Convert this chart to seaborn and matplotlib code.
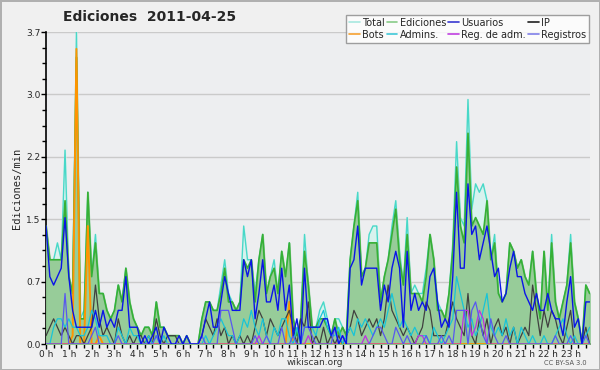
import numpy as np
import pandas as pd
import matplotlib
matplotlib.use("Agg")
import matplotlib.pyplot as plt
from matplotlib.lines import Line2D
from matplotlib.ticker import MultipleLocator, FixedLocator
import seaborn as sns

# edits per minute, one value every 10 minutes (144 values)
total = [
    1.4, 1.0, 1.0, 1.2, 1.0, 2.3, 0.8, 0.6, 3.7, 0.3, 0.4, 1.8,
    0.8, 1.3, 0.6, 0.6, 0.4, 0.3, 0.4, 0.7, 0.5, 0.9, 0.5, 0.3,
    0.2, 0.1, 0.2, 0.2, 0.1, 0.5, 0.2, 0.2, 0.1, 0.1, 0.1, 0.1,
    0.0, 0.1, 0.0, 0.0, 0.0, 0.3, 0.5, 0.5, 0.4, 0.4, 0.7, 1.0,
    0.6, 0.5, 0.4, 0.5, 1.4, 1.0, 1.0, 0.6, 1.0, 1.3, 0.6, 0.8,
    1.0, 0.6, 1.1, 0.8, 1.2, 0.3, 0.1, 0.3, 1.3, 0.7, 0.2, 0.2,
    0.4, 0.5, 0.3, 0.1, 0.3, 0.3, 0.2, 0.1, 1.0, 1.4, 1.8, 0.8,
    0.9, 1.3, 1.4, 1.4, 0.5, 0.8, 1.0, 1.4, 1.7, 1.1, 0.7, 1.5,
    0.6, 0.7, 0.6, 0.6, 0.9, 1.3, 1.0, 0.5, 0.4, 0.3, 0.6, 1.2,
    2.4, 1.5, 1.4, 2.9, 1.6, 1.9, 1.8, 1.9, 1.7, 1.0, 1.3, 0.6,
    0.5, 0.6, 1.2, 1.1, 0.9, 1.0, 0.8, 0.7, 1.1, 0.6, 0.3, 1.1,
    0.4, 1.3, 0.5, 0.3, 0.5, 0.7, 1.3, 0.5, 0.3, 0.0, 0.7, 0.6,
]
ediciones = [
    1.4, 1.0, 1.0, 1.0, 1.0, 1.7, 0.8, 0.6, 3.4, 0.3, 0.3, 1.8,
    0.8, 1.2, 0.6, 0.6, 0.4, 0.3, 0.4, 0.7, 0.5, 0.9, 0.5, 0.3,
    0.2, 0.1, 0.2, 0.2, 0.1, 0.5, 0.2, 0.2, 0.1, 0.1, 0.1, 0.1,
    0.0, 0.1, 0.0, 0.0, 0.0, 0.3, 0.5, 0.5, 0.4, 0.4, 0.6, 0.9,
    0.5, 0.5, 0.4, 0.5, 1.0, 0.9, 1.0, 0.5, 1.0, 1.3, 0.6, 0.8,
    0.9, 0.6, 1.1, 0.8, 1.2, 0.3, 0.1, 0.3, 1.1, 0.7, 0.2, 0.2,
    0.3, 0.3, 0.2, 0.1, 0.3, 0.1, 0.2, 0.1, 1.0, 1.4, 1.7, 0.8,
    0.9, 1.2, 1.2, 1.2, 0.5, 0.8, 1.0, 1.3, 1.6, 1.0, 0.7, 1.3,
    0.6, 0.6, 0.6, 0.5, 0.8, 1.3, 1.0, 0.4, 0.4, 0.3, 0.6, 1.1,
    2.1, 1.4, 1.2, 2.5, 1.4, 1.5, 1.4, 1.3, 1.7, 1.0, 1.2, 0.6,
    0.5, 0.6, 1.2, 1.1, 0.9, 1.0, 0.8, 0.7, 1.1, 0.6, 0.3, 1.1,
    0.4, 1.2, 0.5, 0.3, 0.5, 0.7, 1.2, 0.5, 0.3, 0.0, 0.7, 0.6,
]
usuarios = [
    1.4, 0.8, 0.7, 0.8, 0.9, 1.5, 0.8, 0.4, 0.2, 0.2, 0.2, 0.2,
    0.2, 0.4, 0.2, 0.4, 0.2, 0.3, 0.2, 0.4, 0.4, 0.8, 0.2, 0.2,
    0.2, 0.0, 0.1, 0.0, 0.1, 0.2, 0.0, 0.2, 0.1, 0.0, 0.0, 0.1,
    0.0, 0.1, 0.0, 0.0, 0.0, 0.1, 0.3, 0.5, 0.2, 0.2, 0.5, 0.8,
    0.6, 0.4, 0.4, 0.4, 1.0, 0.8, 1.0, 0.3, 0.6, 1.0, 0.5, 0.5,
    0.7, 0.4, 0.9, 0.4, 0.7, 0.1, 0.3, 0.0, 0.9, 0.2, 0.2, 0.2,
    0.2, 0.3, 0.3, 0.1, 0.2, 0.0, 0.1, 0.0, 0.9, 1.0, 1.4, 0.7,
    0.9, 0.9, 0.9, 0.9, 0.4, 0.7, 0.5, 0.9, 1.1, 0.9, 0.2, 1.1,
    0.4, 0.6, 0.4, 0.5, 0.4, 0.8, 0.9, 0.5, 0.2, 0.3, 0.2, 0.8,
    1.8, 0.9, 0.9, 1.9, 1.3, 1.4, 1.0, 1.2, 1.4, 1.1, 0.8, 0.9,
    0.5, 0.6, 0.9, 1.1, 0.8, 0.8, 0.6, 0.5, 0.4, 0.6, 0.4, 0.4,
    0.6, 0.4, 0.3, 0.3, 0.1, 0.5, 0.8, 0.2, 0.3, 0.0, 0.5, 0.5,
]
ip = [
    0.1, 0.2, 0.3, 0.2, 0.1, 0.2, 0.1, 0.0, 0.1, 0.1, 0.0, 0.1,
    0.2, 0.7, 0.3, 0.1, 0.2, 0.1, 0.0, 0.3, 0.1, 0.0, 0.1, 0.0,
    0.1, 0.1, 0.0, 0.1, 0.0, 0.3, 0.1, 0.0, 0.1, 0.1, 0.1, 0.0,
    0.0, 0.0, 0.0, 0.0, 0.0, 0.1, 0.3, 0.2, 0.1, 0.3, 0.1, 0.2,
    0.0, 0.1, 0.0, 0.1, 0.0, 0.1, 0.0, 0.2, 0.4, 0.3, 0.1, 0.3,
    0.2, 0.1, 0.2, 0.3, 0.4, 0.2, 0.0, 0.3, 0.2, 0.5, 0.0, 0.1,
    0.0, 0.2, 0.0, 0.1, 0.0, 0.1, 0.0, 0.1, 0.2, 0.4, 0.3, 0.1,
    0.2, 0.3, 0.2, 0.3, 0.1, 0.3, 0.7, 0.4, 0.3, 0.2, 0.1, 0.2,
    0.1, 0.0, 0.1, 0.2, 0.5, 0.4, 0.1, 0.1, 0.1, 0.1, 0.3, 0.5,
    0.3, 0.2, 0.1, 0.6, 0.1, 0.0, 0.3, 0.1, 0.3, 0.0, 0.2, 0.3,
    0.1, 0.2, 0.0, 0.2, 0.0, 0.1, 0.2, 0.1, 0.7, 0.4, 0.1, 0.4,
    0.2, 0.4, 0.3, 0.1, 0.0, 0.2, 0.4, 0.0, 0.0, 0.0, 0.2, 0.0,
]
admins = [
    0.0, 0.0, 0.2, 0.3, 0.3, 0.2, 0.3, 0.2, 0.2, 0.1, 0.1, 0.2,
    0.4, 0.3, 0.1, 0.1, 0.1, 0.0, 0.0, 0.2, 0.1, 0.0, 0.2, 0.1,
    0.1, 0.0, 0.0, 0.1, 0.0, 0.1, 0.0, 0.1, 0.0, 0.0, 0.0, 0.0,
    0.0, 0.0, 0.0, 0.0, 0.0, 0.0, 0.1, 0.0, 0.1, 0.2, 0.3, 0.2,
    0.1, 0.1, 0.0, 0.1, 0.3, 0.2, 0.4, 0.2, 0.1, 0.3, 0.1, 0.0,
    0.2, 0.1, 0.3, 0.3, 0.1, 0.0, 0.2, 0.0, 0.2, 0.2, 0.2, 0.1,
    0.3, 0.4, 0.2, 0.1, 0.1, 0.2, 0.0, 0.1, 0.2, 0.1, 0.3, 0.2,
    0.3, 0.2, 0.1, 0.2, 0.3, 0.2, 0.4, 0.6, 0.4, 0.2, 0.3, 0.2,
    0.1, 0.2, 0.1, 0.1, 0.1, 0.0, 0.2, 0.1, 0.0, 0.1, 0.2, 0.3,
    0.8, 0.6, 0.4, 0.2, 0.3, 0.1, 0.2, 0.4, 0.6, 0.2, 0.1, 0.2,
    0.1, 0.3, 0.1, 0.2, 0.0, 0.2, 0.1, 0.0, 0.1, 0.0, 0.0, 0.1,
    0.0, 0.0, 0.1, 0.2, 0.3, 0.1, 0.0, 0.1, 0.0, 0.0, 0.1, 0.2,
]
bots = [
    0.0, 0.0, 0.0, 0.0, 0.0, 0.0, 0.0, 0.1, 3.5, 0.0, 0.0, 1.4,
    0.0, 0.0, 0.1, 0.0, 0.0, 0.0, 0.0, 0.0, 0.0, 0.0, 0.0, 0.0,
    0.0, 0.0, 0.0, 0.0, 0.0, 0.0, 0.0, 0.0, 0.0, 0.0, 0.0, 0.0,
    0.0, 0.0, 0.0, 0.0, 0.0, 0.0, 0.0, 0.0, 0.0, 0.0, 0.0, 0.0,
    0.0, 0.0, 0.0, 0.0, 0.0, 0.0, 0.0, 0.0, 0.0, 0.0, 0.0, 0.0,
    0.0, 0.0, 0.0, 0.0, 0.5, 0.0, 0.0, 0.0, 0.0, 0.0, 0.0, 0.0,
    0.0, 0.0, 0.0, 0.0, 0.0, 0.0, 0.0, 0.0, 0.0, 0.0, 0.0, 0.0,
    0.0, 0.0, 0.0, 0.0, 0.0, 0.0, 0.0, 0.0, 0.0, 0.0, 0.0, 0.0,
    0.0, 0.0, 0.0, 0.0, 0.0, 0.0, 0.0, 0.0, 0.0, 0.0, 0.0, 0.0,
    0.0, 0.0, 0.0, 0.0, 0.0, 0.0, 0.0, 0.0, 0.0, 0.0, 0.0, 0.0,
    0.0, 0.0, 0.0, 0.0, 0.0, 0.0, 0.0, 0.0, 0.0, 0.0, 0.0, 0.0,
    0.0, 0.0, 0.0, 0.0, 0.0, 0.0, 0.0, 0.0, 0.0, 0.0, 0.0, 0.0,
]
reg_adm = [
    0.0, 0.0, 0.0, 0.0, 0.0, 0.0, 0.0, 0.0, 0.0, 0.0, 0.0, 0.0,
    0.0, 0.0, 0.0, 0.0, 0.0, 0.0, 0.0, 0.0, 0.0, 0.0, 0.0, 0.0,
    0.0, 0.0, 0.0, 0.0, 0.0, 0.0, 0.0, 0.0, 0.0, 0.0, 0.0, 0.0,
    0.0, 0.0, 0.0, 0.0, 0.0, 0.0, 0.0, 0.0, 0.0, 0.0, 0.0, 0.0,
    0.0, 0.0, 0.0, 0.0, 0.0, 0.0, 0.0, 0.0, 0.1, 0.0, 0.0, 0.0,
    0.0, 0.0, 0.0, 0.0, 0.0, 0.0, 0.0, 0.0, 0.0, 0.1, 0.0, 0.0,
    0.0, 0.0, 0.0, 0.0, 0.0, 0.0, 0.1, 0.0, 0.0, 0.0, 0.0, 0.0,
    0.1, 0.0, 0.0, 0.0, 0.0, 0.0, 0.0, 0.0, 0.0, 0.0, 0.0, 0.0,
    0.0, 0.0, 0.1, 0.1, 0.0, 0.0, 0.0, 0.0, 0.0, 0.0, 0.0, 0.0,
    0.0, 0.0, 0.4, 0.4, 0.1, 0.2, 0.4, 0.3, 0.0, 0.0, 0.0, 0.0,
    0.0, 0.0, 0.0, 0.0, 0.0, 0.0, 0.0, 0.0, 0.0, 0.0, 0.0, 0.0,
    0.0, 0.0, 0.0, 0.0, 0.0, 0.0, 0.0, 0.0, 0.0, 0.0, 0.0, 0.0,
]
registros = [
    0.0, 0.0, 0.0, 0.0, 0.0, 0.6, 0.0, 0.0, 0.0, 0.0, 0.0, 0.0,
    0.1, 0.2, 0.0, 0.0, 0.0, 0.0, 0.0, 0.1, 0.0, 0.0, 0.0, 0.0,
    0.0, 0.0, 0.0, 0.0, 0.0, 0.1, 0.0, 0.0, 0.0, 0.0, 0.0, 0.0,
    0.0, 0.0, 0.0, 0.0, 0.0, 0.1, 0.0, 0.0, 0.0, 0.0, 0.4, 0.4,
    0.4, 0.2, 0.0, 0.0, 0.0, 0.0, 0.0, 0.1, 0.0, 0.0, 0.1, 0.0,
    0.0, 0.0, 0.2, 0.0, 0.0, 0.1, 0.0, 0.0, 0.2, 0.2, 0.1, 0.0,
    0.0, 0.0, 0.0, 0.0, 0.2, 0.0, 0.1, 0.0, 0.0, 0.0, 0.0, 0.0,
    0.0, 0.0, 0.1, 0.2, 0.2, 0.1, 0.0, 0.0, 0.2, 0.1, 0.0, 0.1,
    0.0, 0.0, 0.0, 0.0, 0.1, 0.0, 0.0, 0.0, 0.1, 0.0, 0.1, 0.0,
    0.4, 0.4, 0.4, 0.0, 0.4, 0.5, 0.3, 0.1, 0.0, 0.3, 0.1, 0.0,
    0.0, 0.1, 0.0, 0.0, 0.0, 0.0, 0.0, 0.0, 0.0, 0.0, 0.0, 0.0,
    0.0, 0.0, 0.1, 0.0, 0.0, 0.0, 0.1, 0.0, 0.0, 0.0, 0.1, 0.0,
]

hour_labels = [f"{h} h" for h in range(24)]
ytick_vals = [0.0, 0.74, 1.48, 2.22, 2.96, 3.7]
ytick_labels = ["0.0", "0.7", "1.5", "2.2", "3.0", "3.7"]

hours = np.arange(len(total)) / 6.0
df = pd.DataFrame({
    "hora": hours, "Total": total, "Ediciones": ediciones, "Usuarios": usuarios,
    "IP": ip, "Admins.": admins, "Bots": bots, "Reg. de adm.": reg_adm,
    "Registros": registros,
})

sns.set_style("white", {"axes.facecolor": "#edeef0"})
plt.rcParams["font.family"] = ["DejaVu Sans"]

fig = plt.figure(figsize=(6, 3.7), dpi=100, facecolor="#f0f0f0",
                 edgecolor="#b0b0b0", linewidth=2)
ax = fig.add_axes([0.0767, 0.070, 0.906, 0.8435])

for y in ytick_vals[1:]:
    ax.axhline(y, color="#cacaca", linewidth=1, zorder=0)

ax.fill_between(df["hora"], df["Total"], color="#d8f2ee", zorder=1)
sns.lineplot(data=df, x="hora", y="Total", ax=ax, color="#48d8c8", linewidth=1.0, zorder=2)
ax.fill_between(df["hora"], df["Ediciones"], color="#90c890", alpha=0.9, zorder=3)
sns.lineplot(data=df, x="hora", y="Ediciones", ax=ax, color="#36b036", linewidth=1.2, zorder=4)
sns.lineplot(data=df, x="hora", y="Bots", ax=ax, color="#ff9400", linewidth=1.4, zorder=5)
sns.lineplot(data=df, x="hora", y="IP", ax=ax, color="#404040", linewidth=0.9, zorder=6)
sns.lineplot(data=df, x="hora", y="Admins.", ax=ax, color="#18c4d8", linewidth=0.9, zorder=6)
sns.lineplot(data=df, x="hora", y="Reg. de adm.", ax=ax, color="#c030e0", linewidth=0.9, zorder=7)
sns.lineplot(data=df, x="hora", y="Registros", ax=ax, color="#5858f0", linewidth=0.9, zorder=7)
sns.lineplot(data=df, x="hora", y="Usuarios", ax=ax, color="#0a14e8", linewidth=1.0, zorder=8)

ax.set_xlim(0, hours[-1])
ax.set_ylim(0, 3.7)
ax.set_xticks(range(24))
ax.set_xticklabels(hour_labels, fontsize=6.5)
ax.xaxis.set_minor_locator(MultipleLocator(1 / 3))
ax.yaxis.set_major_locator(FixedLocator(ytick_vals))
ax.set_yticklabels(ytick_labels, fontsize=6.5)
ax.yaxis.set_minor_locator(MultipleLocator(0.185))
ax.tick_params(axis="both", which="major", direction="out", length=3.5, width=1,
               color="black", pad=0.5, left=True, bottom=True)
ax.tick_params(axis="both", which="minor", direction="out", length=3, width=1,
               color="black", left=True, bottom=True)
ax.set_xlabel("")
ax.set_ylabel("Ediciones/min", fontsize=7.5, family="DejaVu Sans Mono", labelpad=3)
for side in ["top", "right"]:
    ax.spines[side].set_visible(False)
for side in ["left", "bottom"]:
    ax.spines[side].set_color("black")
    ax.spines[side].set_linewidth(1.2)

fig.text(0.25, 0.954, "Ediciones  2011-04-25", fontsize=10, fontweight="bold",
         ha="center", va="center")
fig.text(0.525, 0.020, "wikiscan.org", fontsize=6.5, ha="center", va="center", color="#333333")
fig.text(0.978, 0.020, "CC BY-SA 3.0", fontsize=4.8, ha="right", va="center", color="#555555")

handles = [
    Line2D([], [], color="#a8e8e0", lw=1.2), Line2D([], [], color="#f5a030", lw=1.2),
    Line2D([], [], color="#88cc88", lw=1.2), Line2D([], [], color="#40c8d8", lw=1.2),
    Line2D([], [], color="#3838d0", lw=1.2), Line2D([], [], color="#c040e0", lw=1.2),
    Line2D([], [], color="#202020", lw=1.2), Line2D([], [], color="#8080e8", lw=1.2),
]
labels = ["Total", "Bots", "Ediciones", "Admins.", "Usuarios", "Reg. de adm.",
          "IP", "Registros"]
leg = fig.legend(handles, labels, ncol=4, loc="upper right", bbox_to_anchor=(0.985, 0.965),
                 fontsize=7, frameon=True, fancybox=False, handlelength=1.1,
                 handletextpad=0.25, columnspacing=0.2, labelspacing=0.2,
                 borderpad=0.3, borderaxespad=0.2)
leg.get_frame().set_facecolor("white")
leg.get_frame().set_edgecolor("#888888")
leg.get_frame().set_linewidth(1)

fig.savefig("out.png", dpi=100, facecolor=fig.get_facecolor(), edgecolor=fig.get_edgecolor())
